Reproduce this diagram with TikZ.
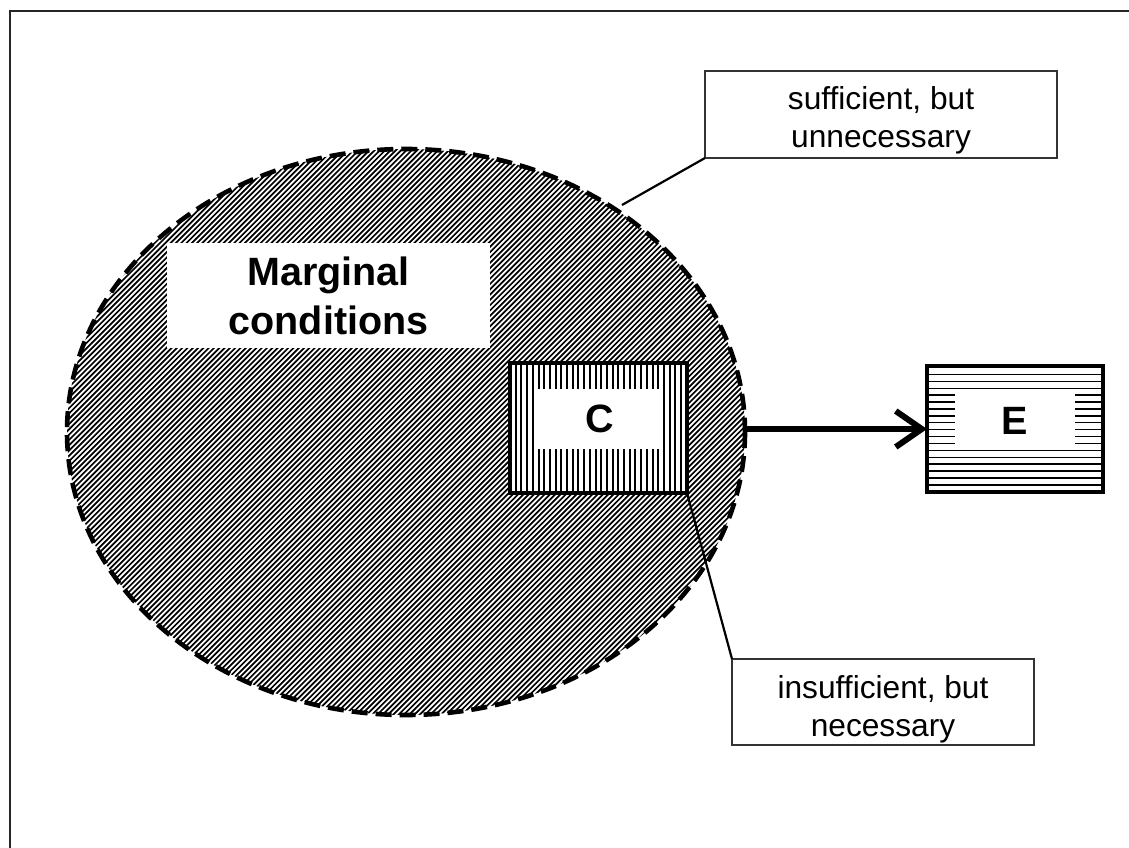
\documentclass[tikz,border=0pt]{standalone}
\usepackage{fontspec}
\setmainfont{Liberation Sans}
\usetikzlibrary{arrows.meta,shapes.geometric}
\begin{document}
\begin{tikzpicture}[x=1pt,y=-1pt,
  labeltext/.style={font=\fontsize{31.7}{38}\selectfont, align=center, inner sep=0pt},
  bigtext/.style={font=\fontsize{39.5}{49}\selectfont\bfseries, align=center},
  callbox/.style={draw=black!80, fill=white, line width=1.4pt, inner sep=0pt, outer sep=0pt},
  whitebox/.style={fill=white, inner sep=0pt, outer sep=0pt},
  leader/.style={line width=2.2pt},
  hatch/.style={line width=1.7pt},
  frame/.style={line width=2.4pt, draw=black!85}]
\useasboundingbox (0,0) rectangle (1129,848);
\draw[frame] (10,848) -- (10,11) -- (1129,11);
% ellipse of marginal conditions
\node[ellipse, minimum width=678, minimum height=566, inner sep=0pt, outer sep=0pt] (ell) at (406,432) {};
\begin{scope}
  \clip (406,432) ellipse [x radius=339, y radius=283];
  \fill[white] (60,140) rectangle (760,730);
  \foreach \i in {-700,-694.7,...,700}
    \draw[hatch] (406+\i-320,432+320) -- (406+\i+320,432-320);
\end{scope}
\node[whitebox, bigtext, minimum width=323, minimum height=105] (marg) at (328.5,295.5) {Marginal\\conditions};
% C box
\node[fill=white, minimum width=177, minimum height=130, inner sep=0pt, outer sep=0pt] (C) at (598.5,428) {};
\begin{scope}
  \clip (510,363) rectangle (687,493);
  \foreach \i in {0,5.7,...,180}
    \draw[line width=2pt] (510+\i,363) -- (510+\i,493);
\end{scope}
\node[whitebox, bigtext, minimum width=126, minimum height=60] (Cin) at (600,419) {C};
\draw[line width=4pt] (C.south west) rectangle (C.north east);
% dashed boundary
\draw[line width=4.6pt, dash pattern=on 16pt off 8pt] (406,432) ellipse [x radius=339, y radius=283];
% E box
\node[fill=white, minimum width=176, minimum height=126, inner sep=0pt, outer sep=0pt] (E) at (1015,429) {};
\begin{scope}
  \clip (927,366) rectangle (1103,492);
  \foreach \i in {1.5,8.4,...,130}
    \draw[line width=1.4pt] (927,366+\i) -- (1103,366+\i);
\end{scope}
\node[whitebox, bigtext, minimum width=120, minimum height=58] (Ein) at (1015,421) {E};
\draw[line width=3.5pt] (E.south west) rectangle (E.north east);
% arrow
\draw[line width=6.5pt, -{Straight Barb[length=26pt, width=36pt, line width=6pt]}] (ell.east |- E.west) -- (E.west);
% callouts
\node[callbox, minimum width=352, minimum height=87] (suf) at (881,114.5) {};
\node[labeltext] (suftext) at ([yshift=-6]suf.center) {sufficient, but\\unnecessary};
\coordinate (sufend) at (622,205);
\draw[leader] (suf.south west) -- (sufend);
\node[callbox, minimum width=302, minimum height=86] (ins) at (883,702) {};
\node[labeltext] (instext) at ([yshift=-7]ins.center) {insufficient, but\\necessary};
\draw[leader] (C.south east) -- (ins.north west);
\end{tikzpicture}
\end{document}
